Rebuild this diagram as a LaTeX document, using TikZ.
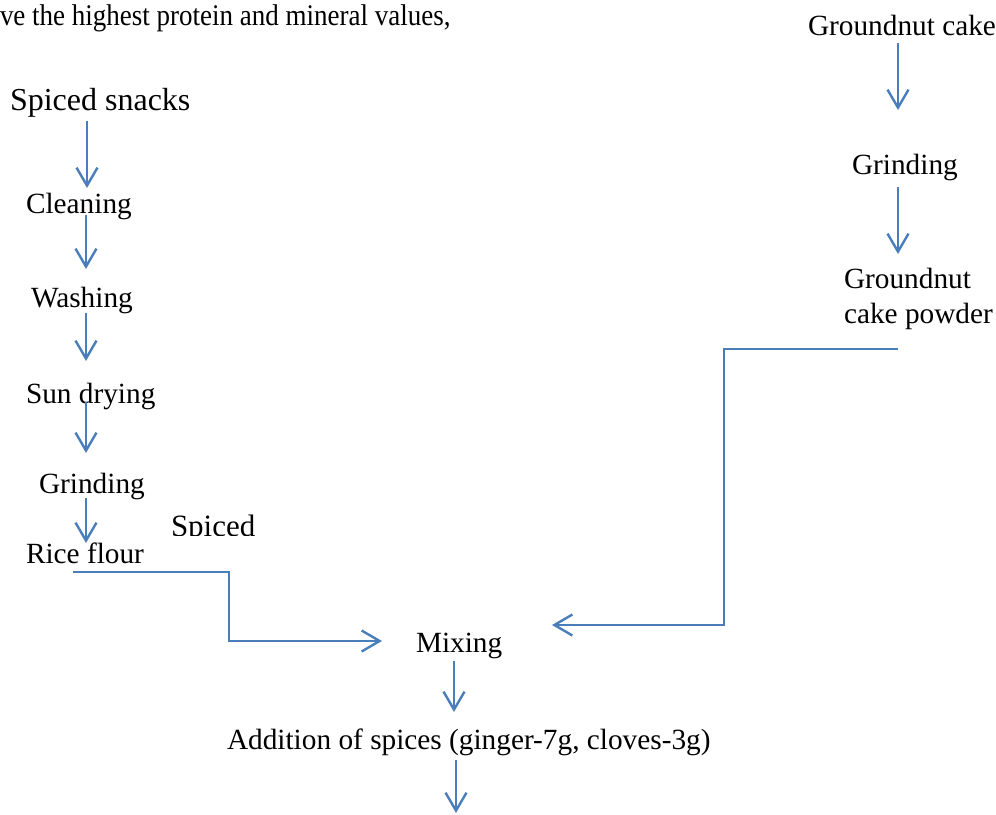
\documentclass[tikz,border=0pt]{standalone}
\usepackage{fontspec}
\setmainfont{Liberation Serif}
\usetikzlibrary{arrows.meta}
\definecolor{flowblue}{RGB}{74,126,187}
\tikzset{
  lbl/.style={anchor=base west, inner sep=0pt, outer sep=0pt, font=\fontsize{29.3}{35}\selectfont},
  biglbl/.style={lbl, font=\fontsize{32}{38}\selectfont},
  flowarr/.style={draw=flowblue, line width=2.4pt, -{Straight Barb[length=18pt,width=21pt]}},
}
\begin{document}
\begin{tikzpicture}[x=1pt,y=-1pt]
\useasboundingbox (0,0) rectangle (996,814);
% texts
\node[lbl, font=\fontsize{30}{36}\selectfont] (toptext) at (0,25) {\scalebox{0.9}[1]{ve the highest protein and mineral values,}};
\node[biglbl] (snacks) at (10,110) {Spiced snacks};
\node[lbl] (cleaning) at (26,213) {Cleaning};
\node[lbl] (washing) at (31,307) {Washing};
\node[lbl] (sundry) at (26,403) {Sun drying};
\node[lbl] (grindA) at (39,493) {Grinding};
\node[lbl] (rice) at (26,563) {Rice flour};
\begin{scope}
  \clip (150,480) rectangle (300,535.5);
  \node[lbl, font=\fontsize{31}{37}\selectfont] (spiced) at (171,536) {Spiced};
\end{scope}
\node[lbl] (mixing) at (416,652) {Mixing};
\node[lbl] (addition) at (227,749) {Addition of spices (ginger-7g, cloves-3g)};
\node[lbl] (gcake) at (808,35) {Groundnut cake};
\node[lbl] (grindB) at (852,174) {Grinding};
\node[lbl, anchor=north west, align=left] (gpowder) at (844,268) {Groundnut\\cake powder};
% arrow end points
\coordinate (a1s) at (87,121);  \coordinate (a1e) at (87,188);
\coordinate (a2s) at (86,215);  \coordinate (a2e) at (86,269);
\coordinate (a3s) at (86,313);  \coordinate (a3e) at (86,361);
\coordinate (a4s) at (86,402);  \coordinate (a4e) at (86,453);
\coordinate (a5s) at (86,498);  \coordinate (a5e) at (86,543);
\coordinate (b1s) at (898,43);  \coordinate (b1e) at (898,110);
\coordinate (b2s) at (898,187); \coordinate (b2e) at (898,254);
\coordinate (rs) at (73,572); \coordinate (rk1) at (229,572); \coordinate (rk2) at (229,641); \coordinate (re) at (382,641);
\coordinate (gs) at (898,349); \coordinate (gk1) at (724,349); \coordinate (gk2) at (724,625); \coordinate (ge) at (552,625);
\coordinate (m1s) at (454,661); \coordinate (m1e) at (454,712);
\coordinate (m2s) at (456,760); \coordinate (m2e) at (456,813);
% connectors
\draw[flowarr] (a1s) -- (a1e);
\draw[flowarr] (a2s) -- (a2e);
\draw[flowarr] (a3s) -- (a3e);
\draw[flowarr] (a4s) -- (a4e);
\draw[flowarr] (a5s) -- (a5e);
\draw[flowarr] (b1s) -- (b1e);
\draw[flowarr] (b2s) -- (b2e);
\draw[flowarr] (rs) -- (rk1) -- (rk2) -- (re);
\draw[flowarr] (gs) -- (gk1) -- (gk2) -- (ge);
\draw[flowarr] (m1s) -- (m1e);
\draw[flowarr] (m2s) -- (m2e);
\end{tikzpicture}
\end{document}
